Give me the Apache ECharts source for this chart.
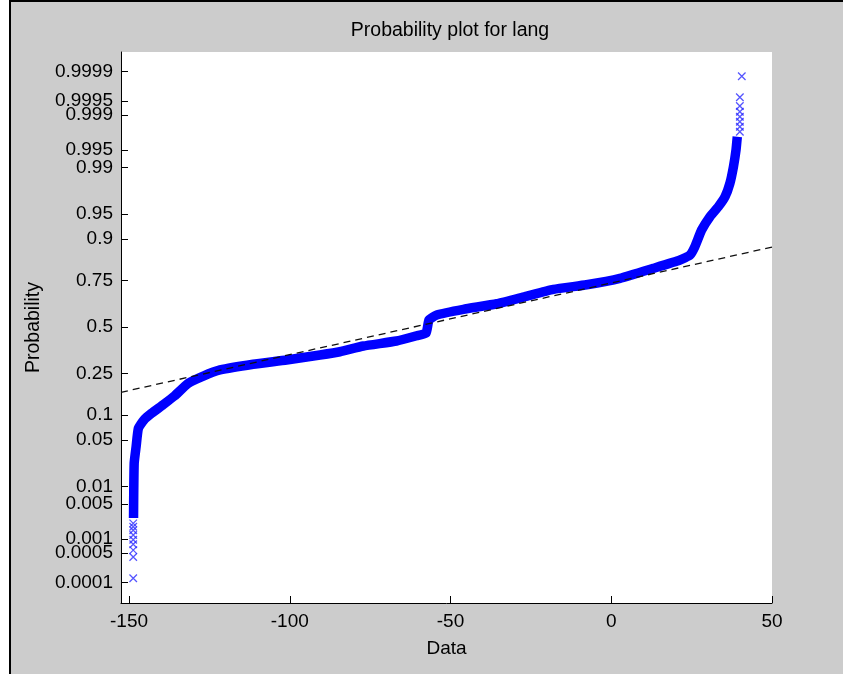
<!DOCTYPE html>
<html>
<head>
<meta charset="utf-8">
<script src="https://cdn.jsdelivr.net/npm/echarts@6/dist/echarts.min.js"></script>
<style>
  html, body { margin: 0; padding: 0; background: #ffffff; overflow: hidden; }
  #chart { position: absolute; left: 0; top: 0; width: 843px; height: 674px; }
</style>
</head>
<body>
<div id="chart"></div>
<script>
// ---- data ----
const titleText = 'Probability plot for lang';
const xAxisTitle = 'Data';
const yAxisTitle = 'Probability';

// dense body of the sample (sorted values, plotting probabilities)
const bandX = [-148.6, -148.4, -147.8, -147.1, -145.4, -143.0, -139.5, -135.9, -131.6, -126.9,
               -121.7, -111.4, -101.0, -90.6, -84.4, -77.1, -66.8, -60.5, -57.6, -56.7,
               -54.3, -46.0, -35.6, -26.8, -18.0, -7.7, 2.7, 13.1, 21.4, 24.5,
               26.0, 28.1, 30.7, 33.3, 35.4, 36.9, 38.0, 38.8, 39.2];
const bandP = [0.0027, 0.0236, 0.0406, 0.070, 0.0877, 0.1044, 0.128, 0.1575, 0.206, 0.2376,
               0.2657, 0.2936, 0.3153, 0.3416, 0.3594, 0.3909, 0.4192, 0.4495, 0.4653, 0.5406,
               0.5695, 0.6018, 0.6327, 0.6715, 0.7085, 0.7310, 0.7608, 0.8037, 0.8355, 0.8529,
               0.879, 0.9212, 0.946, 0.9601, 0.9712, 0.9818, 0.9902, 0.9950, 0.99721];

// separately visible extreme observations
const tailX = [-148.7, -148.7, -148.7, -148.7, -148.7, -148.7, -148.7, -148.7, -148.7,
               40.0, 40.0, 40.0, 40.0, 40.0, 40.0, 40.0, 40.6];
const tailP = [0.000126, 0.000404, 0.000577, 0.000775, 0.000968, 0.00122, 0.00154, 0.00181, 0.00212,
               0.99778, 0.99824, 0.99861, 0.99890, 0.99914, 0.99936, 0.99959, 0.99987];

// reference (fitted) line end points
const refX = [-152.5, 50];
const refP = [0.1708, 0.8778];

const xTicks = [-150, -100, -50, 0, 50];
const yTickProbs = [0.0001, 0.0005, 0.001, 0.005, 0.01, 0.05, 0.1, 0.25, 0.5, 0.75, 0.9, 0.95, 0.99, 0.995, 0.999, 0.9995, 0.9999];
const yTickLabels = ['0.0001', '0.0005', '0.001', '0.005', '0.01', '0.05', '0.1', '0.25', '0.5', '0.75', '0.9', '0.95', '0.99', '0.995', '0.999', '0.9995', '0.9999'];

// ---- normal probability scale (inverse normal CDF, Acklam) ----
function probit(p) {
  const a = [-3.969683028665376e+01, 2.209460984245205e+02, -2.759285104469687e+02, 1.383577518672690e+02, -3.066479806614716e+01, 2.506628277459239e+00];
  const b = [-5.447609879822406e+01, 1.615858368580409e+02, -1.556989798598866e+02, 6.680131188771972e+01, -1.328068155833025e+01];
  const c = [-7.784894002430293e-03, -3.223964580411365e-01, -2.400758277161838e+00, -2.549732539343734e+00, 4.374664141464968e+00, 2.938163982698783e+00];
  const d = [7.784695709101556e-03, 3.224671290700398e-01, 2.445134137142996e+00, 3.754408661907416e+00];
  const plow = 0.02425, phigh = 1 - plow;
  let q, r;
  if (p < plow) {
    q = Math.sqrt(-2 * Math.log(p));
    return (((((c[0]*q+c[1])*q+c[2])*q+c[3])*q+c[4])*q+c[5]) / ((((d[0]*q+d[1])*q+d[2])*q+d[3])*q+1);
  } else if (p <= phigh) {
    q = p - 0.5; r = q*q;
    return (((((a[0]*r+a[1])*r+a[2])*r+a[3])*r+a[4])*r+a[5])*q / (((((b[0]*r+b[1])*r+b[2])*r+b[3])*r+b[4])*r+1);
  } else {
    q = Math.sqrt(-2 * Math.log(1 - p));
    return -(((((c[0]*q+c[1])*q+c[2])*q+c[3])*q+c[4])*q+c[5]) / ((((d[0]*q+d[1])*q+d[2])*q+d[3])*q+1);
  }
}

const yTickZ = yTickProbs.map(probit);
function labelForZ(v) {
  let best = 0, bd = Infinity;
  yTickZ.forEach((z, i) => { const dd = Math.abs(z - v); if (dd < bd) { bd = dd; best = i; } });
  return yTickLabels[best];
}

const bandData = bandX.map((x, i) => [x, probit(bandP[i])]);
const tailData = tailX.map((x, i) => [x, probit(tailP[i])]);
const refData = refX.map((x, i) => [x, probit(refP[i])]);

const FONT = '"Liberation Sans", Arial, Helvetica, sans-serif';
const chart = echarts.init(document.getElementById('chart'), null, { renderer: 'canvas' });
chart.setOption({
  animation: false,
  backgroundColor: '#ffffff',
  graphic: [
    { type: 'rect', z: -10, silent: true, shape: { x: 9, y: 0, width: 834, height: 674 },
      style: { fill: '#cccccc' } },
    { type: 'rect', z: -9, silent: true, shape: { x: 9, y: 0, width: 2, height: 674 },
      style: { fill: '#000' } },
    { type: 'rect', z: -9, silent: true, shape: { x: 9, y: 0, width: 834, height: 2 },
      style: { fill: '#000' } }
  ],
  title: {
    text: titleText,
    left: 445, top: 16, textAlign: 'center',
    textStyle: { fontFamily: FONT, fontSize: 19.5, fontWeight: 'normal', color: '#000' }
  },
  grid: {
    left: 121, right: 71, top: 52, bottom: 71,
    show: true, backgroundColor: '#ffffff', borderWidth: 0
  },
  xAxis: {
    type: 'value', min: -152.5, max: 50,
    name: xAxisTitle, nameLocation: 'middle', nameGap: 36,
    nameTextStyle: { fontFamily: FONT, fontSize: 19, color: '#000' },
    axisLine: { onZero: false, lineStyle: { color: '#000', width: 1 } },
    axisTick: { inside: true, length: 7, customValues: xTicks, lineStyle: { color: '#000' } },
    axisLabel: { customValues: xTicks, margin: 9, fontFamily: FONT, fontSize: 19, color: '#000' },
    splitLine: { show: false }
  },
  yAxis: {
    type: 'value', min: -4.02, max: 4.006,
    name: yAxisTitle, nameLocation: 'middle', nameGap: 77, nameRotate: 90,
    nameTextStyle: { fontFamily: FONT, fontSize: 19.5, color: '#000' },
    axisLine: { onZero: false, lineStyle: { color: '#000', width: 1 } },
    axisTick: { inside: true, length: 7, customValues: yTickZ, lineStyle: { color: '#000' } },
    axisLabel: { customValues: yTickZ, margin: 8, hideOverlap: false, fontFamily: FONT, fontSize: 19, color: '#000',
                 formatter: (v) => labelForZ(v) },
    splitLine: { show: false }
  },
  series: [
    {
      type: 'line', data: bandData, showSymbol: false, symbol: 'none',
      smooth: 0.15,
      lineStyle: { color: '#0000ff', width: 9.5, cap: 'butt', join: 'round' },
      z: 2, silent: true
    },
    {
      type: 'scatter', data: tailData,
      symbol: 'path://M0,0L10,10M10,0L0,10', symbolSize: 7.5,
      itemStyle: { color: 'transparent', borderColor: '#2a2aff', borderWidth: 1.3 },
      z: 3, silent: true
    },
    {
      type: 'line', data: refData, showSymbol: false, symbol: 'none',
      lineStyle: { color: '#111', width: 1.3, type: [7, 5] },
      z: 4, silent: true
    }
  ]
});
</script>
</body>
</html>
